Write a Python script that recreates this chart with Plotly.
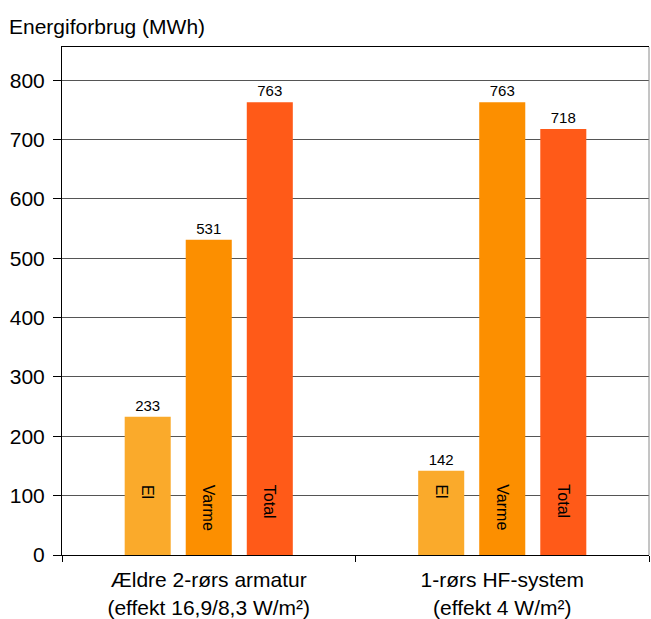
import plotly.graph_objects as go

# Energy consumption per lighting system (MWh)
groups = [
    "Ældre 2-rørs armatur<br>(effekt 16,9/8,3 W/m²)",
    "1-rørs HF-system<br>(effekt 4 W/m²)",
]
series_names = ["El", "Varme", "Total"]
el = [233, 142]
varme = [531, 763]
total = [763, 718]
colors = ["#FAAA2B", "#FC8F00", "#FF5A18"]
y_ticks = [0, 100, 200, 300, 400, 500, 600, 700, 800]

FONT = "Liberation Sans, Arial, sans-serif"
BARGAP = 0.376
BARGROUPGAP = 0.246

fig = go.Figure()
for name, vals, color in zip(series_names, [el, varme, total], colors):
    fig.add_bar(
        x=groups,
        y=vals,
        name=name,
        marker=dict(color=color, line=dict(width=0)),
        text=[str(v) for v in vals],
        textposition="outside",
        textfont=dict(size=15, color="black", family=FONT),
        cliponaxis=False,
    )

# Rotated series names inside each bar
slot = (1 - BARGAP) / len(series_names)
annotations = []
for si, name in enumerate(series_names):
    for gi in range(len(groups)):
        annotations.append(dict(
            x=gi + (si - 1) * slot, y=122, xref="x", yref="y",
            text=name, showarrow=False, textangle=90,
            xanchor="center", yanchor="top",
            font=dict(size=16, color="black", family=FONT),
        ))

fig.update_layout(
    template="none",
    width=651, height=619,
    margin=dict(l=62, r=2, t=47, b=64),
    barmode="group",
    bargap=BARGAP,
    bargroupgap=BARGROUPGAP,
    showlegend=False,
    paper_bgcolor="white",
    plot_bgcolor="white",
    font=dict(family=FONT, color="black"),
    title=dict(
        text="Energiforbrug (MWh)", x=9 / 651, xanchor="left",
        y=1 - 27 / 619, yanchor="middle", yref="container",
        font=dict(size=21, family=FONT, color="black"),
    ),
    annotations=annotations,
    shapes=[dict(
        type="line", xref="paper", yref="paper", x0=1, x1=1, y0=0, y1=1,
        line=dict(color="#8a8a8a", width=1),
    )],
)

fig.update_xaxes(
    showline=True, linecolor="black", linewidth=1, mirror=True,
    ticks="outside", tickson="boundaries", ticklen=6, tickcolor="black",
    tickfont=dict(size=21, family=FONT, color="black"),
    ticklabelstandoff=6,
    showgrid=False, automargin=False,
)
fig.update_yaxes(
    range=[0, 856], tickvals=y_ticks,
    showgrid=True, gridcolor="#555555", gridwidth=1,
    zeroline=True, zerolinecolor="black", zerolinewidth=1,
    showline=True, linecolor="black", linewidth=1,
    ticks="outside", ticklen=8, tickcolor="black",
    tickfont=dict(size=21, family=FONT, color="black"),
    ticklabelstandoff=4,
    automargin=False,
)

fig.write_html("out.html")
